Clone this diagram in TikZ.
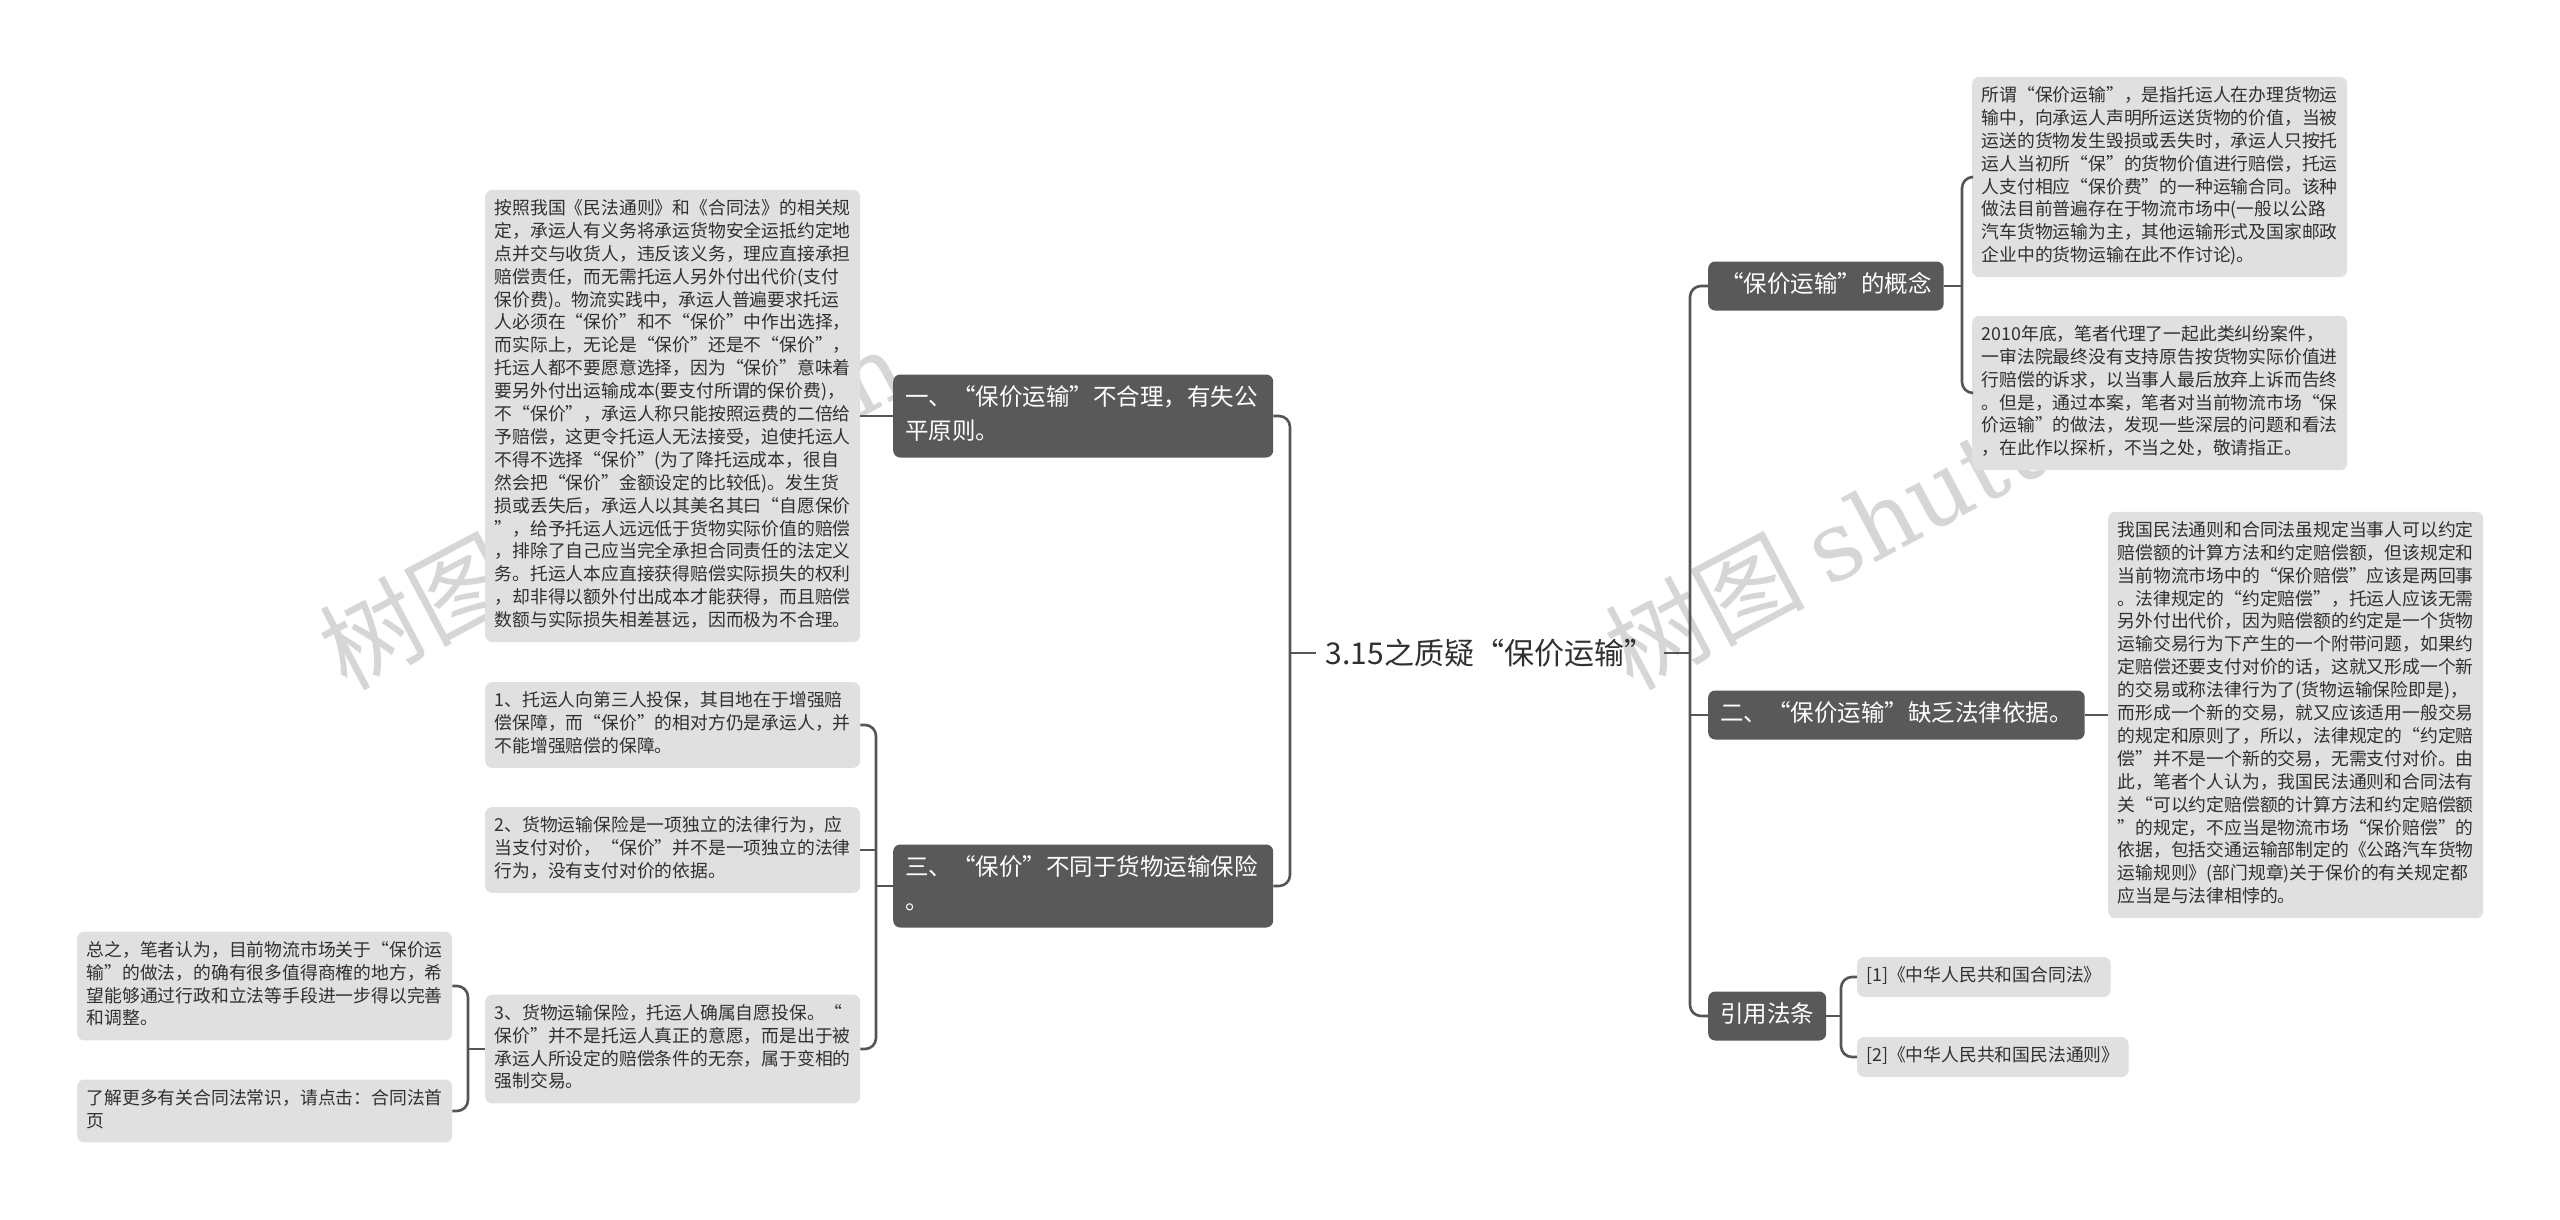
\documentclass[tikz,border=0pt]{standalone}
\usepackage{fontspec}
\setmainfont{Noto Sans CJK SC}
\newfontfamily\wmlatin{DejaVu Serif}
\definecolor{darkbox}{HTML}{595959}
\definecolor{leafbox}{HTML}{E0E0E0}
\definecolor{linec}{HTML}{555555}
\definecolor{txt}{HTML}{303030}
\definecolor{wmc}{HTML}{D6D6D6}
\newcommand\leafsz{\fontsize{17.8}{22.9}\selectfont}
\newcommand\lvsz{\fontsize{23.5}{34}\selectfont}
\newcommand\rootsz{\fontsize{30}{34}\selectfont}
\newcommand\wmsz{\fontsize{100}{100}\selectfont}
\newcommand\wmlsz{\fontsize{96}{100}\selectfont}
\tikzset{
  leafnode/.style={fill=leafbox, rounded corners=7pt, text=txt, font=\leafsz,
    align=left, text width=356pt, inner xsep=9.5pt, inner ysep=8.5pt, anchor=west,
    execute at begin node=\strut, execute at end node=\strut},
  refnode/.style={fill=leafbox, rounded corners=7pt, text=txt, font=\leafsz,
    inner xsep=9pt, inner ysep=8.5pt, anchor=west,
    execute at begin node=\strut, execute at end node=\strut},
  lvnode/.style={fill=darkbox, rounded corners=7pt, text=white, font=\lvsz,
    inner xsep=12pt, inner ysep=7.5pt, anchor=west,
    execute at begin node=\strut, execute at end node=\strut},
  rootnode/.style={text=txt, font=\rootsz, inner xsep=10pt, inner ysep=6pt},
  wmark/.style={text=wmc, font=\wmsz, inner sep=0pt, rotate=28, anchor=base west},
  conn/.style={draw=linec, line width=2.6pt, rounded corners=11pt},
}
\begin{document}
\begin{tikzpicture}[x=1pt,y=-1pt]
\fill[white] (0,0) rectangle (2560,1220);
\useasboundingbox (0,0) rectangle (2560,1220);
% watermarks
\node[wmark] (wm1) at (346,692) {树图 {\wmlatin\wmlsz shutu.cn}};
\node[wmark] (wm2) at (1632,692) {树图 {\wmlatin\wmlsz shutu.cn}};
% root
\node[rootnode] (root) at (1490,653) {3.15之质疑“保价运输”};
% left level 1
\node[lvnode, text width=356pt, align=left] (n1) at (893,416) {一、“保价运输”不合理，有失公\\平原则。};
\node[lvnode, text width=356pt, align=left] (n3) at (893,886) {三、“保价”不同于货物运输保险\\。};
% left leaves
\node[leafnode] (L1) at (485,416) {按照我国《民法通则》和《合同法》的相关规\\定，承运人有义务将承运货物安全运抵约定地\\点并交与收货人，违反该义务，理应直接承担\\赔偿责任，而无需托运人另外付出代价(支付\\保价费)。物流实践中，承运人普遍要求托运\\人必须在“保价”和不“保价”中作出选择，\\而实际上，无论是“保价”还是不“保价”，\\托运人都不要愿意选择，因为“保价”意味着\\要另外付出运输成本(要支付所谓的保价费)，\\不“保价”，承运人称只能按照运费的二倍给\\予赔偿，这更令托运人无法接受，迫使托运人\\不得不选择“保价”(为了降托运成本，很自\\然会把“保价”金额设定的比较低)。发生货\\损或丢失后，承运人以其美名其曰“自愿保价\\”，给予托运人远远低于货物实际价值的赔偿\\，排除了自己应当完全承担合同责任的法定义\\务。托运人本应直接获得赔偿实际损失的权利\\，却非得以额外付出成本才能获得，而且赔偿\\数额与实际损失相差甚远，因而极为不合理。};
\node[leafnode] (c1) at (485,725) {1、托运人向第三人投保，其目地在于增强赔\\偿保障，而“保价”的相对方仍是承运人，并\\不能增强赔偿的保障。};
\node[leafnode] (c2) at (485,850) {2、货物运输保险是一项独立的法律行为，应\\当支付对价，“保价”并不是一项独立的法律\\行为，没有支付对价的依据。};
\node[leafnode] (c3) at (485,1049) {3、货物运输保险，托运人确属自愿投保。“\\保价”并不是托运人真正的意愿，而是出于被\\承运人所设定的赔偿条件的无奈，属于变相的\\强制交易。};
\node[leafnode] (d1) at (77,986) {总之，笔者认为，目前物流市场关于“保价运\\输”的做法，的确有很多值得商榷的地方，希\\望能够通过行政和立法等手段进一步得以完善\\和调整。};
\node[leafnode] (d2) at (77,1111) {了解更多有关合同法常识，请点击：合同法首\\页};
% right level 1
\node[lvnode] (R1) at (1708,286) {“保价运输”的概念};
\node[lvnode] (R2) at (1708,715) {二、“保价运输”缺乏法律依据。};
\node[lvnode] (R3) at (1708,1016) {引用法条};
% right leaves
\node[leafnode] (R1a) at (1972,177) {所谓“保价运输”，是指托运人在办理货物运\\输中，向承运人声明所运送货物的价值，当被\\运送的货物发生毁损或丢失时，承运人只按托\\运人当初所“保”的货物价值进行赔偿，托运\\人支付相应“保价费”的一种运输合同。该种\\做法目前普遍存在于物流市场中(一般以公路\\汽车货物运输为主，其他运输形式及国家邮政\\企业中的货物运输在此不作讨论)。};
\node[leafnode] (R1b) at (1972,393) {2010年底，笔者代理了一起此类纠纷案件，\\一审法院最终没有支持原告按货物实际价值进\\行赔偿的诉求，以当事人最后放弃上诉而告终\\。但是，通过本案，笔者对当前物流市场“保\\价运输”的做法，发现一些深层的问题和看法\\，在此作以探析，不当之处，敬请指正。};
\node[leafnode] (R2a) at (2108,715) {我国民法通则和合同法虽规定当事人可以约定\\赔偿额的计算方法和约定赔偿额，但该规定和\\当前物流市场中的“保价赔偿”应该是两回事\\。法律规定的“约定赔偿”，托运人应该无需\\另外付出代价，因为赔偿额的约定是一个货物\\运输交易行为下产生的一个附带问题，如果约\\定赔偿还要支付对价的话，这就又形成一个新\\的交易或称法律行为了(货物运输保险即是)，\\而形成一个新的交易，就又应该适用一般交易\\的规定和原则了，所以，法律规定的“约定赔\\偿”并不是一个新的交易，无需支付对价。由\\此，笔者个人认为，我国民法通则和合同法有\\关“可以约定赔偿额的计算方法和约定赔偿额\\”的规定，不应当是物流市场“保价赔偿”的\\依据，包括交通运输部制定的《公路汽车货物\\运输规则》(部门规章)关于保价的有关规定都\\应当是与法律相悖的。};
\node[refnode] (R3a) at (1857,977) {[1]《中华人民共和国合同法》};
\node[refnode] (R3b) at (1857,1057) {[2]《中华人民共和国民法通则》};
% junctions
\coordinate (jL) at (1290,653);
\coordinate (jC) at (876,886);
\coordinate (jD) at (468,1049);
\coordinate (jR) at (1690,653);
\coordinate (jR1) at (1962,286);
\coordinate (jR3) at (1841,1016);
% connectors
\draw[conn] (root.west) -- (jL);
\draw[conn] (n1.east) -| (jL) |- (n3.east);
\draw[conn] (n1.west) -- (L1.east);
\draw[conn] (n3.west) -- (jC);
\draw[conn] (c1.east) -| (jC) |- (c3.east);
\draw[conn] (c2.east) -- (c2.east -| jC);
\draw[conn] (c3.west) -- (jD);
\draw[conn] (d1.east) -| (jD) |- (d2.east);
\draw[conn] (root.east) -- (jR);
\draw[conn] (R1.west) -| (jR) |- (R3.west);
\draw[conn] (R2.west) -- (R2.west -| jR);
\draw[conn] (R1.east) -- (jR1);
\draw[conn] (R1a.west) -| (jR1) |- (R1b.west);
\draw[conn] (R2.east) -- (R2a.west);
\draw[conn] (R3.east) -- (jR3);
\draw[conn] (R3a.west) -| (jR3) |- (R3b.west);
\end{tikzpicture}
\end{document}
